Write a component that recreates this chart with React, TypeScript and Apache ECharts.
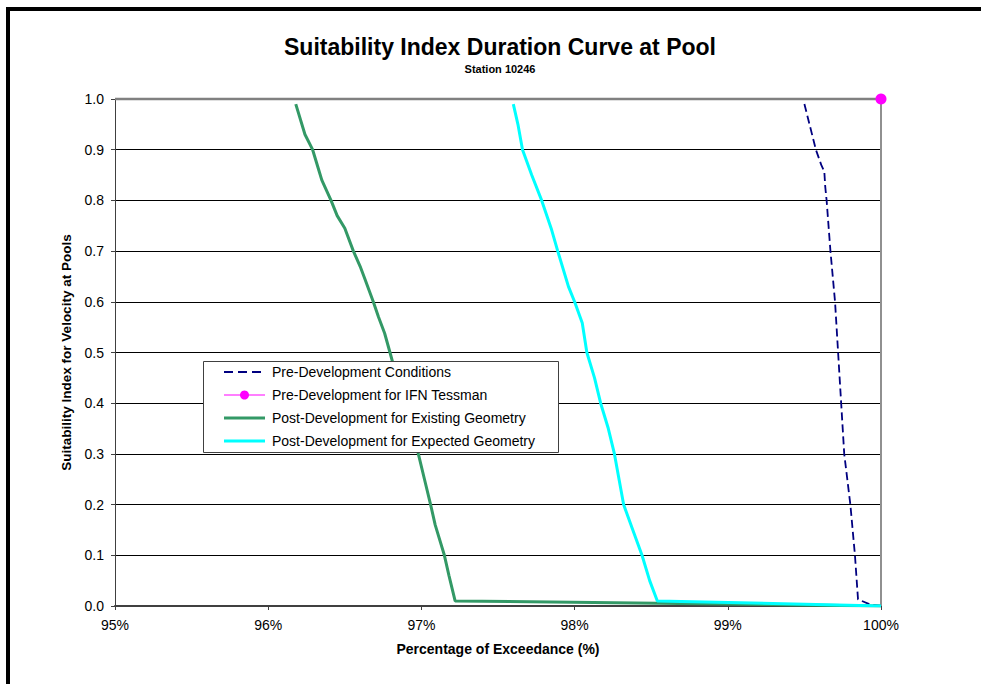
import React, { useEffect, useRef } from "react";
import * as echarts from "echarts";

const titleText = "Suitability Index Duration Curve at Pool";
const subtitleText = "Station 10246";
const xAxisName = "Percentage of Exceedance (%)";
const yAxisName = "Suitability Index for Velocity at Pools";

const seriesNames = [
  "Pre-Development Conditions",
  "Pre-Development for IFN Tessman",
  "Post-Development for Existing Geometry",
  "Post-Development for Expected Geometry",
];
const seriesColors = ["#000080", "#ff00ff", "#339966", "#00ffff"];

// [percentage of exceedance, suitability index]
const preDevelopment: [number, number][] = [
  [99.5, 0.99], [99.575, 0.9], [99.61, 0.87], [99.63, 0.857], [99.636, 0.827],
  [99.645, 0.8], [99.67, 0.7], [99.7, 0.6], [99.72, 0.5], [99.74, 0.4],
  [99.76, 0.3], [99.8, 0.2], [99.83, 0.1], [99.85, 0.013], [99.93, 0.003], [100, 0],
];

const ifnTessman: [number, number][] = [[100, 1.0]];

const postExisting: [number, number][] = [
  [96.18, 0.99], [96.24, 0.93], [96.29, 0.9], [96.33, 0.86], [96.35, 0.84],
  [96.41, 0.8], [96.45, 0.77], [96.5, 0.745], [96.556, 0.7], [96.6, 0.67],
  [96.63, 0.646], [96.686, 0.6], [96.72, 0.57], [96.76, 0.538], [96.795, 0.5],
  [96.84, 0.45], [96.88, 0.42], [96.93, 0.38], [96.98, 0.3], [97.02, 0.25],
  [97.06, 0.2], [97.09, 0.16], [97.15, 0.1], [97.18, 0.06], [97.22, 0.01], [100, 0],
];

const postExpected: [number, number][] = [
  [97.6, 0.99], [97.63, 0.95], [97.66, 0.9], [97.72, 0.85], [97.785, 0.8],
  [97.85, 0.742], [97.89, 0.7], [97.96, 0.63], [98.0, 0.6], [98.05, 0.558],
  [98.08, 0.5], [98.13, 0.45], [98.17, 0.4], [98.22, 0.35], [98.26, 0.3],
  [98.32, 0.2], [98.38, 0.15], [98.44, 0.1], [98.49, 0.05], [98.54, 0.01], [100, 0],
];

const FONT = "Arial, 'Liberation Sans', sans-serif";

export default function App() {
  const ref = useRef<HTMLDivElement>(null);

  useEffect(() => {
    document.body.style.margin = "0";
    if (!ref.current) return;
    const chart = echarts.init(ref.current, null, { renderer: "svg" });
    const gridL = 115, gridR = 100, gridT = 99, gridB = 78;
    const W = 981, H = 684;

    // manual legend
    const lgX = 203, lgY = 361, lgW = 355, lgH = 91;
    const rowY = [372, 395, 418, 441];
    const lineX1 = 224, lineX2 = 265, textX = 272;
    const legendEls: any[] = [
      {
        type: "rect", z: 20,
        shape: { x: lgX + 0.5, y: lgY + 0.5, width: lgW, height: lgH },
        style: { fill: "#ffffff", stroke: "#404040", lineWidth: 1 },
      },
    ];
    seriesNames.forEach((name, i) => {
      const style: any = { stroke: seriesColors[i], lineWidth: i >= 2 ? 3 : 1.8 };
      if (i === 0) style.lineDash = [9, 5];
      if (i === 1) style.lineWidth = 1.2;
      legendEls.push({
        type: "line", z: 21,
        shape: { x1: lineX1, y1: rowY[i], x2: lineX2, y2: rowY[i] },
        style,
      });
      if (i === 1) {
        legendEls.push({
          type: "circle", z: 22,
          shape: { cx: (lineX1 + lineX2) / 2, cy: rowY[i], r: 4.5 },
          style: { fill: seriesColors[i] },
        });
      }
      legendEls.push({
        type: "text", z: 22, x: textX, y: rowY[i],
        style: { text: name, font: `14px ${FONT}`, fill: "#000", textAlign: "left", textVerticalAlign: "middle" },
      });
    });

    chart.setOption({
      animation: false,
      backgroundColor: "#ffffff",
      textStyle: { fontFamily: FONT },
      grid: { left: gridL, right: gridR, top: gridT, bottom: gridB },
      graphic: [
        { type: "rect", shape: { x: 6, y: 7, width: 4, height: H }, style: { fill: "#000" }, z: 1 },
        { type: "rect", shape: { x: 6, y: 7, width: W, height: 4 }, style: { fill: "#000" }, z: 1 },
        {
          type: "line", z: 1,
          shape: { x1: gridL, y1: gridT, x2: W - gridR, y2: gridT },
          style: { stroke: "#808080", lineWidth: 2.5 },
        },
        {
          type: "line", z: 1,
          shape: { x1: W - gridR, y1: gridT, x2: W - gridR, y2: H - gridB },
          style: { stroke: "#909090", lineWidth: 2 },
        },
        {
          type: "text", x: 500, y: 47,
          style: { text: titleText, font: `bold 23px ${FONT}`, fill: "#000", textAlign: "center", textVerticalAlign: "middle" },
        },
        {
          type: "text", x: 500, y: 69,
          style: { text: subtitleText, font: `bold 11px ${FONT}`, fill: "#000", textAlign: "center", textVerticalAlign: "middle" },
        },
        ...legendEls,
      ],
      xAxis: {
        type: "value",
        min: 95,
        max: 100,
        interval: 1,
        name: xAxisName,
        nameLocation: "middle",
        nameGap: 36,
        nameTextStyle: { fontSize: 14, fontWeight: "bold", color: "#000", fontFamily: FONT },
        axisLine: { onZero: false, lineStyle: { color: "#404040", width: 2 } },
        axisTick: { show: true, length: 4, lineStyle: { color: "#404040" } },
        axisLabel: { formatter: (v: number) => `${v}%`, fontSize: 14, color: "#000", margin: 12, fontFamily: FONT },
        splitLine: { show: false },
      },
      yAxis: {
        type: "value",
        min: 0,
        max: 1,
        interval: 0.1,
        name: yAxisName,
        nameLocation: "middle",
        nameGap: 38,
        nameTextStyle: { fontSize: 13.5, fontWeight: "bold", color: "#000", fontFamily: FONT },
        axisLine: { show: true, lineStyle: { color: "#404040", width: 1 } },
        axisTick: { show: true, length: 4, lineStyle: { color: "#404040" } },
        axisLabel: { formatter: (v: number) => v.toFixed(1), fontSize: 14, color: "#000", margin: 11, fontFamily: FONT },
        splitLine: { show: true, lineStyle: { color: "#000", width: 1 } },
      },
      series: [
        {
          name: seriesNames[0],
          type: "line",
          data: preDevelopment,
          showSymbol: false,
          symbol: "none",
          lineStyle: { color: seriesColors[0], width: 1.8, type: [8, 4] },
          itemStyle: { color: seriesColors[0] },
          z: 5,
        },
        {
          name: seriesNames[1],
          type: "line",
          data: ifnTessman,
          symbol: "circle",
          symbolSize: 11,
          showSymbol: true,
          lineStyle: { color: seriesColors[1], width: 1.2 },
          itemStyle: { color: seriesColors[1] },
          z: 8,
        },
        {
          name: seriesNames[2],
          type: "line",
          data: postExisting,
          showSymbol: false,
          symbol: "none",
          lineStyle: { color: seriesColors[2], width: 3 },
          itemStyle: { color: seriesColors[2] },
          z: 5,
        },
        {
          name: seriesNames[3],
          type: "line",
          data: postExpected,
          showSymbol: false,
          symbol: "none",
          lineStyle: { color: seriesColors[3], width: 3 },
          itemStyle: { color: seriesColors[3] },
          z: 6,
        },
      ],
    });
    return () => chart.dispose();
  }, []);

  return <div ref={ref} style={{ width: 981, height: 684 }} />;
}
